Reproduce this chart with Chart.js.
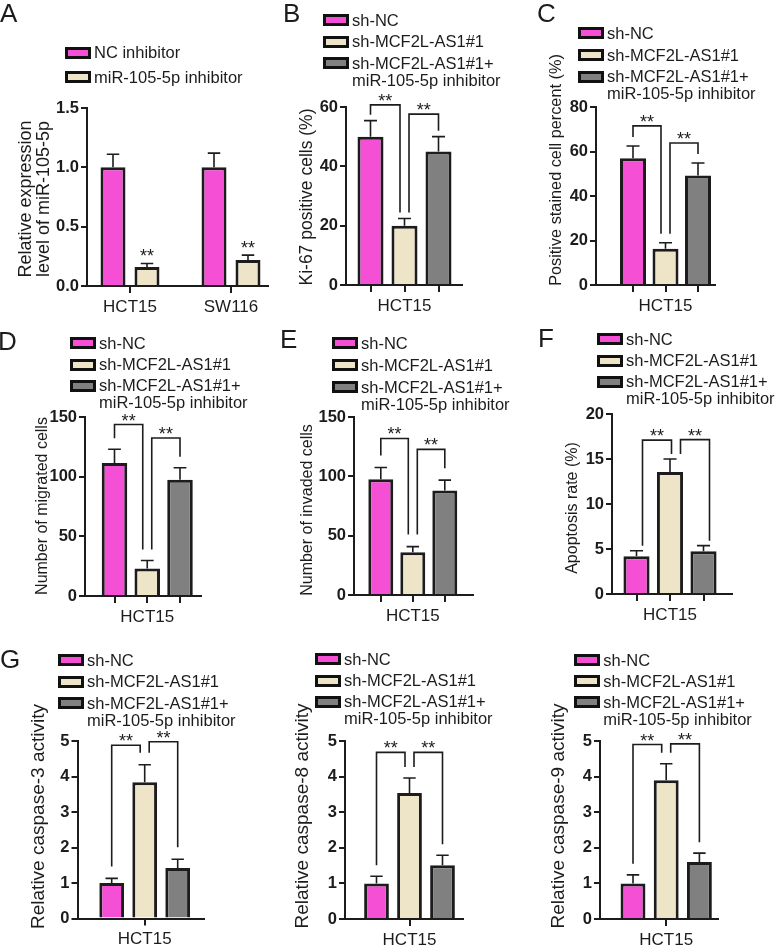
<!DOCTYPE html>
<html>
<head>
<meta charset="utf-8">
<script src="https://cdn.jsdelivr.net/npm/chart.js@4.4.1/dist/chart.umd.min.js"></script>
<style>
  html, body { margin: 0; padding: 0; background: #fff; }
  body { width: 778px; height: 946px; position: relative; overflow: hidden;
         font-family: 'Liberation Sans', Arial, Helvetica, sans-serif; color: #1c1c1c; }
  canvas { position: absolute; }
  .letter { position: absolute; font-size: 26px; line-height: 26px; }
  .leg { position: absolute; font-size: 16.5px; line-height: 17px; white-space: pre; }
  .sw { position: absolute; width: 26px; height: 12px; box-sizing: border-box; border: 3px solid #111; }
</style>
</head>
<body>
<script>
// ---- data ----
const groupsA = ['HCT15', 'SW116'];
const legendA = ['NC inhibitor', 'miR-105-5p inhibitor'];
const ncInhibitor = [1.0, 1.0];
const ncInhibitorErr = [0.11, 0.12];
const miRInhibitor = [0.16, 0.22];
const miRInhibitorErr = [0.03, 0.04];

const groupNames = ['sh-NC', 'sh-MCF2L-AS1#1', 'sh-MCF2L-AS1#1+\nmiR-105-5p inhibitor'];

const ki67 = [50, 20, 45];
const ki67Err = [5.4, 2.4, 5.0];
const stained = [57, 16.3, 49.2];
const stainedErr = [5.5, 2.7, 5.6];
const migrated = [111.5, 23, 97.5];
const migratedErr = [11.5, 6.7, 10];
const invaded = [97.5, 36, 88];
const invadedErr = [10, 4.8, 8.8];
const apoptosis = [4.2, 13.55, 4.75];
const apoptosisErr = [0.6, 1.45, 0.62];
const casp3 = [1.0, 3.84, 1.42];
const casp3Err = [0.13, 0.49, 0.25];
const casp8 = [1.0, 3.54, 1.51];
const casp8Err = [0.2, 0.42, 0.28];
const casp9 = [1.0, 3.9, 1.6];
const casp9Err = [0.24, 0.46, 0.25];

// bracket levels (y value of the bracket bar) for sh-NC vs #1 and #1 vs rescue
const ki67Sig = [60.7, 57.6];
const stainedSig = [71.5, 63.8];
const migratedSig = [143.7, 132.4];
const invadedSig = [131.9, 122.7];
const apoptosisSig = [17.1, 17.15];
const casp3Sig = [4.88, 4.98];
const casp8Sig = [4.68, 4.68];
const casp9Sig = [4.9, 4.92];

// ---- styling ----
const FONT = "'Liberation Sans', Arial, Helvetica, sans-serif";
const INK = '#1c1c1c';
const COLORS = ['#F54FD6', '#EEE4C8', '#808080'];

const onlyMiddle = v => (v === 1 ? 'HCT15' : '');

const panels = [
  { letter: 'A', lx: 0, lb: 22, L: 87, R: 268, T: 108, B: 286, yMax: 1.5, yStep: 0.5, dec: 1,
    first: 130, spacing: 101, grouped: true, cat: 0.673, bar: 0.735,
    legend: legendA, leg: [65, 52.5, 24.5],
    series: [[ncInhibitor, ncInhibitorErr], [miRInhibitor, miRInhibitorErr]],
    xTicks: [0, 1], xName: v => groupsA[v] || '',
    title: ['Relative expression', 'level of miR-105-5p'], titleX: [26, 44], titleY: 199, titleSize: 18,
    stars: true },
  { letter: 'B', lx: 283, lb: 22, L: 346, R: 462, T: 107, B: 285, yMax: 60, yStep: 20, dec: 0,
    first: 370.5, spacing: 34, ratio: 0.765, legend: groupNames, leg: [323, 20, 21.7],
    values: ki67, errors: ki67Err, sig: ki67Sig, gap: 6,
    title: ['Ki-67 positive cells (%)'], titleX: [307.5], titleY: 197, titleSize: 17.5 },
  { letter: 'C', lx: 537, lb: 22, L: 596, R: 715, T: 107, B: 285.7, yMax: 80, yStep: 20, dec: 0,
    first: 633, spacing: 32.5, ratio: 0.8, legend: groupNames, leg: [578, 33.3, 21.7],
    values: stained, errors: stainedErr, sig: stainedSig, gap: 9,
    title: ['Positive stained cell percent (%)'], titleX: [556.5], titleY: 170, titleSize: 16.3 },
  { letter: 'D', lx: -2, lb: 350, L: 85, R: 201, T: 417, B: 596, yMax: 150, yStep: 50, dec: 0,
    first: 114.5, spacing: 32.75, ratio: 0.78, legend: groupNames, leg: [70, 343.3, 21.2],
    values: migrated, errors: migratedErr, sig: migratedSig, gap: 11,
    title: ['Number of migrated cells'], titleX: [42.5], titleY: 506, titleSize: 16 },
  { letter: 'E', lx: 280, lb: 348, L: 354, R: 473, T: 417, B: 595.5, yMax: 150, yStep: 50, dec: 0,
    first: 380.8, spacing: 32, ratio: 0.78, legend: groupNames, leg: [332, 343.3, 22],
    values: invaded, errors: invadedErr, sig: invadedSig, gap: 12,
    title: ['Number of invaded cells'], titleX: [307.5], titleY: 510, titleSize: 16 },
  { letter: 'F', lx: 538, lb: 347, L: 612, R: 732, T: 414, B: 594, yMax: 20, yStep: 5, dec: 0,
    first: 636.5, spacing: 33.5, ratio: 0.78, legend: groupNames, leg: [597, 339.3, 21.2],
    values: apoptosis, errors: apoptosisErr, sig: apoptosisSig, gap: 5, shift: 6,
    title: ['Apoptosis rate (%)'], titleX: [572.5], titleY: 508, titleSize: 16 },
  { letter: 'G', lx: 0, lb: 668, L: 77.5, R: 204, T: 740.5, B: 918.5, yMax: 5, yStep: 1, dec: 0,
    first: 111.7, spacing: 33, ratio: 0.75, legend: groupNames, leg: [58, 660, 21.6], xTicks: [1],
    values: casp3, errors: casp3Err, sig: casp3Sig, gap: 12,
    title: ['Relative caspase-3 activity'], titleX: [39], titleY: 816, titleSize: 19 },
  { L: 345, R: 463, T: 741, B: 919, yMax: 5, yStep: 1, dec: 0,
    first: 376.5, spacing: 33, ratio: 0.75, legend: groupNames, leg: [315, 659.3, 21.2], xTicks: [1],
    values: casp8, errors: casp8Err, sig: casp8Sig, gap: 11,
    title: ['Relative caspase-8 activity'], titleX: [302.5], titleY: 816, titleSize: 19 },
  { L: 600, R: 718, T: 741, B: 919, yMax: 5, yStep: 1, dec: 0,
    first: 633, spacing: 33.2, ratio: 0.75, legend: groupNames, leg: [574.3, 660, 21.2], xTicks: [1],
    values: casp9, errors: casp9Err, sig: casp9Sig, gap: 11,
    title: ['Relative caspase-9 activity'], titleX: [559], titleY: 816, titleSize: 19 },
];

function addDiv(cls, left, top, text) {
  const d = document.createElement('div');
  d.className = cls;
  d.style.left = left + 'px';
  d.style.top = top + 'px';
  if (text != null) d.textContent = text;
  document.body.appendChild(d);
  return d;
}

// error bars, brackets, stars and the rotated y title
function drawAnnot(chart, p) {
  const ctx = chart.ctx;
  const ys = chart.scales.y;
  const bars = [];
  chart.data.datasets.forEach((ds, di) => {
    chart.getDatasetMeta(di).data.forEach((el, j) => {
      bars.push({ ds: di, x: el.x, y: el.y, w: el.width,
                  errTop: ys.getPixelForValue(ds.data[j].y + ds.errors[j]) });
    });
  });

  ctx.save();
  ctx.strokeStyle = INK;
  ctx.fillStyle = INK;
  ctx.lineWidth = 1.6;
  bars.forEach(b => {
    ctx.beginPath();
    ctx.moveTo(b.x, b.y);
    ctx.lineTo(b.x, b.errTop);
    ctx.moveTo(b.x - b.w * 0.25, b.errTop);
    ctx.lineTo(b.x + b.w * 0.25, b.errTop);
    ctx.stroke();
  });

  ctx.font = '18px ' + FONT;
  ctx.textAlign = 'center';
  ctx.textBaseline = 'alphabetic';

  if (p.stars) {
    bars.filter(b => b.ds === 1).forEach(b => ctx.fillText('**', b.x, b.errTop - 1));
  }

  if (p.sig) {
    const d = 4.5, shift = p.shift || 0;
    const pairs = [[0, 1], [1, 2]];
    pairs.forEach(([a, c], k) => {
      const lx = bars[a].x + (a === 1 ? d : 0) + shift;
      const rx = bars[c].x - (c === 1 ? d : 0) + shift;
      const lb = bars[a].errTop - p.gap;
      const rb = bars[c].errTop - p.gap;
      const top = ys.getPixelForValue(p.sig[k]);
      ctx.beginPath();
      ctx.moveTo(lx, lb);
      ctx.lineTo(lx, top);
      ctx.lineTo(rx, top);
      ctx.lineTo(rx, rb);
      ctx.stroke();
      ctx.fillText('**', (lx + rx) / 2, top + 2);
    });
  }

  ctx.font = p.titleSize + 'px ' + FONT;
  ctx.textBaseline = 'middle';
  p.title.forEach((line, i) => {
    ctx.save();
    ctx.translate(p.titleX[i] - p.cl, p.titleY - p.ct);
    ctx.rotate(-Math.PI / 2);
    ctx.fillText(line, 0, 0);
    ctx.restore();
  });
  ctx.restore();
}

function build(p) {
  const cl = Math.max(0, p.L - 90);
  const cr = Math.min(778, p.R + 20);
  const ct = Math.max(0, p.T - 110);
  const cb = Math.min(946, p.B + 40);
  p.cl = cl; p.ct = ct;

  const cv = document.createElement('canvas');
  cv.width = cr - cl;
  cv.height = cb - ct;
  cv.style.left = cl + 'px';
  cv.style.top = ct + 'px';
  document.body.appendChild(cv);

  const xmin = -(p.first - p.L) / p.spacing;
  const xmax = xmin + (p.R - p.L) / p.spacing;
  const barStyle = { borderColor: INK, borderWidth: 3, borderSkipped: 'start' };

  let datasets;
  if (p.grouped) {
    datasets = p.series.map(([vals, errs], k) => ({
      label: p.legend[k],
      data: vals.map((v, i) => ({ x: i, y: v })),
      errors: errs,
      backgroundColor: COLORS[k],
      categoryPercentage: p.cat,
      barPercentage: p.bar,
      ...barStyle,
    }));
  } else {
    datasets = p.legend.map((name, k) => ({
      label: name,
      data: [{ x: k, y: p.values[k] }],
      errors: [p.errors[k]],
      backgroundColor: COLORS[k],
      grouped: false,
      categoryPercentage: 1,
      barPercentage: p.ratio,
      ...barStyle,
    }));
  }

  const xTicks = p.xTicks || [0, 1, 2];
  const xName = p.xName || onlyMiddle;

  new Chart(cv, {
    type: 'bar',
    data: { datasets },
    options: {
      responsive: false,
      animation: false,
      devicePixelRatio: 1,
      layout: { padding: { left: 0, right: cr - p.R, top: p.T - ct, bottom: 0 } },
      plugins: { legend: { display: false }, tooltip: { enabled: false } },
      scales: {
        x: {
          type: 'linear', min: xmin, max: xmax, offset: false,
          afterBuildTicks: s => { s.ticks = xTicks.map(v => ({ value: v })); },
          afterFit: s => { s.height = cb - p.B; },
          grid: { display: true, drawOnChartArea: false, drawTicks: true, tickLength: 7,
                  color: INK, lineWidth: 2, offset: false },
          border: { display: true, color: INK, width: 2 },
          ticks: { callback: v => xName(v), color: INK, padding: 4, maxRotation: 0,
                   autoSkip: false, font: { family: FONT, size: 17 } },
        },
        y: {
          min: 0, max: p.yMax,
          afterFit: s => { s.width = p.L - cl; },
          grid: { display: true, drawOnChartArea: false, drawTicks: true, tickLength: 6,
                  color: INK, lineWidth: 2 },
          border: { display: true, color: INK, width: 2 },
          ticks: { stepSize: p.yStep, callback: v => v.toFixed(p.dec), color: INK, padding: 2,
                   font: { family: FONT, size: 16.5, weight: 'bold' } },
        },
      },
    },
    plugins: [{ id: 'annot', afterDatasetsDraw: chart => drawAnnot(chart, p) }],
  });

  // legend and panel letter as html text
  p.legend.forEach((name, k) => {
    const cy = p.leg[1] + k * p.leg[2];
    const sw = addDiv('sw', p.leg[0], cy - 6);
    sw.style.background = COLORS[k];
    addDiv('leg', p.leg[0] + 29, cy - 8.5, name);
  });
  if (p.letter) addDiv('letter', p.lx, p.lb - 22, p.letter);
}

panels.forEach(build);
</script>
</body>
</html>
